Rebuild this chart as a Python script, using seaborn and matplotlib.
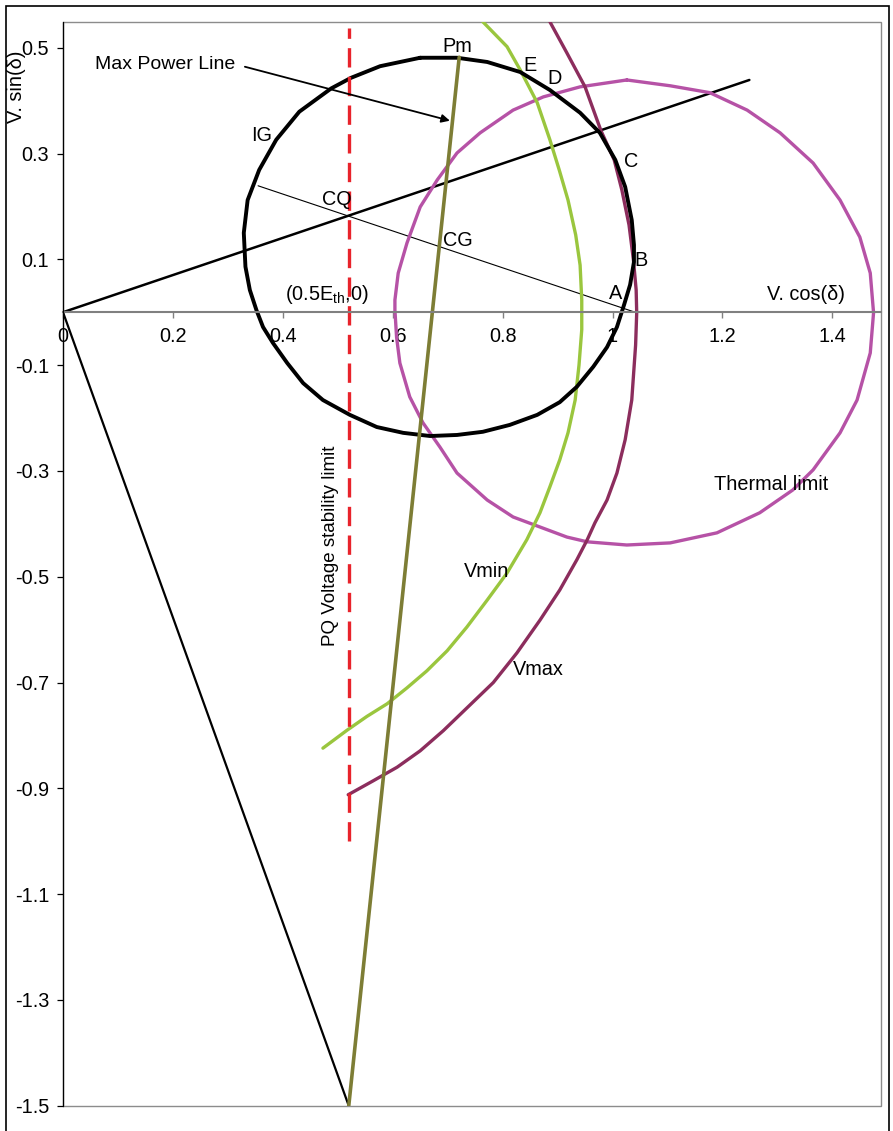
import matplotlib
matplotlib.use("Agg")
import matplotlib.pyplot as plt
from matplotlib.patches import Rectangle
import seaborn as sns

# ---- curves (V.cos(delta), V.sin(delta)) ----
ig_x = [0.650, 0.717, 0.772, 0.832, 0.886, 0.941, 0.977, 1.005, 1.023, 1.035,
        1.039, 1.039, 1.032, 1.021, 1.008, 0.990, 0.965, 0.935, 0.904, 0.863,
        0.813, 0.764, 0.717, 0.668, 0.619, 0.571, 0.522, 0.473, 0.437, 0.408,
        0.382, 0.364, 0.352, 0.340, 0.332, 0.329, 0.336, 0.357, 0.388, 0.430,
        0.488, 0.524, 0.577, 0.650]
ig_y = [0.481, 0.481, 0.473, 0.454, 0.420, 0.377, 0.339, 0.288, 0.237, 0.174,
        0.127, 0.095, 0.052, 0.014, -0.028, -0.066, -0.103, -0.141, -0.170, -0.194,
        -0.213, -0.226, -0.232, -0.234, -0.228, -0.217, -0.194, -0.166, -0.134, -0.096,
        -0.058, -0.028, 0.004, 0.042, 0.086, 0.150, 0.212, 0.269, 0.326, 0.379,
        0.423, 0.443, 0.465, 0.481]

thermal_x = [1.026, 1.105, 1.177, 1.245, 1.305, 1.365, 1.414, 1.450, 1.469, 1.475,
             1.469, 1.445, 1.414, 1.365, 1.328, 1.268, 1.190, 1.105, 1.026, 0.954,
             0.917, 0.868, 0.819, 0.772, 0.717, 0.686, 0.655, 0.631, 0.613, 0.607,
             0.604, 0.604, 0.610, 0.626, 0.650, 0.681, 0.717, 0.759, 0.819, 0.874,
             0.941, 1.026]
thermal_y = [0.439, 0.428, 0.415, 0.382, 0.339, 0.282, 0.212, 0.142, 0.074, -0.001,
             -0.077, -0.166, -0.228, -0.298, -0.336, -0.379, -0.417, -0.436, -0.440, -0.434,
             -0.425, -0.406, -0.387, -0.355, -0.304, -0.255, -0.209, -0.160, -0.096, -0.047,
             0.004, 0.023, 0.074, 0.131, 0.199, 0.250, 0.301, 0.339, 0.382, 0.407,
             0.426, 0.439]

vmin_x = [0.764, 0.808, 0.832, 0.863, 0.886, 0.903, 0.919, 0.933, 0.941, 0.944,
          0.944, 0.939, 0.932, 0.919, 0.904, 0.886, 0.868, 0.844, 0.808, 0.772,
          0.735, 0.699, 0.662, 0.626, 0.590, 0.553, 0.517, 0.473]
vmin_y = [0.549, 0.502, 0.458, 0.396, 0.326, 0.269, 0.212, 0.146, 0.089, 0.023,
          -0.033, -0.100, -0.166, -0.228, -0.279, -0.330, -0.379, -0.430, -0.493, -0.544,
          -0.595, -0.640, -0.678, -0.710, -0.740, -0.764, -0.790, -0.824]

vmax_x = [0.886, 0.917, 0.950, 0.979, 1.003, 1.017, 1.030, 1.038, 1.043, 1.044,
          1.042, 1.035, 1.023, 1.008, 0.990, 0.968, 0.954, 0.935, 0.904, 0.868,
          0.826, 0.783, 0.735, 0.692, 0.650, 0.608, 0.564, 0.519]
vmax_y = [0.549, 0.490, 0.426, 0.343, 0.288, 0.231, 0.165, 0.099, 0.042, -0.001,
          -0.062, -0.166, -0.241, -0.304, -0.355, -0.398, -0.430, -0.468, -0.525, -0.582,
          -0.644, -0.700, -0.748, -0.791, -0.829, -0.860, -0.886, -0.912]

lower_x = [0.0, 0.520]
lower_y = [0.0, -1.500]

upper_x = [0.0, 0.521, 1.249]
upper_y = [0.0, 0.183, 0.439]

maxpow_x = [0.520, 0.721]
maxpow_y = [-1.500, 0.482]

diam_x = [0.355, 1.041]
diam_y = [0.239, 0.0]

pq_x = [0.520, 0.520]
pq_y = [-1.000, 0.537]

x_ticks = [0.0, 0.2, 0.4, 0.6, 0.8, 1.0, 1.2, 1.4]
x_ticklabels = ["0", "0.2", "0.4", "0.6", "0.8", "1", "1.2", "1.4"]
y_ticks = [0.5, 0.3, 0.1, -0.1, -0.3, -0.5, -0.7, -0.9, -1.1, -1.3, -1.5]
y_ticklabels = ["0.5", "0.3", "0.1", "-0.1", "-0.3", "-0.5", "-0.7", "-0.9", "-1.1", "-1.3", "-1.5"]

sns.set_theme(style="white")
plt.rcParams["font.family"] = ["Liberation Sans", "DejaVu Sans"]
plt.rcParams["mathtext.fontset"] = "custom"
plt.rcParams["mathtext.rm"] = "Liberation Sans"
plt.rcParams["axes.unicode_minus"] = False
plt.rcParams["text.color"] = "black"
plt.rcParams["xtick.labelcolor"] = "black"
plt.rcParams["ytick.labelcolor"] = "black"

W, H = 893, 1131
fig = plt.figure(figsize=(W / 100, H / 100), dpi=100)
ax = fig.add_axes([63 / W, 1 - 1105.8 / H, (880.7 - 63) / W, (1105.8 - 22.3) / H])

C_THERM = "#B652A6"
C_VMAX = "#8C2D5D"
C_VMIN = "#9AC63E"
C_OLIVE = "#7D7D35"
C_RED = "#E8232B"


def curve(xs, ys, color, lw, **kw):
    sns.lineplot(x=xs, y=ys, sort=False, estimator=None, color=color,
                 linewidth=lw, ax=ax, **kw)


curve(lower_x, lower_y, "black", 1.6)
curve(upper_x, upper_y, "black", 1.8)
curve(diam_x, diam_y, "black", 0.8)
curve(thermal_x, thermal_y, C_THERM, 2.4)
curve(vmin_x, vmin_y, C_VMIN, 2.4)
curve(vmax_x, vmax_y, C_VMAX, 2.4)
curve(ig_x, ig_y, "black", 2.8)
curve(maxpow_x, maxpow_y, C_OLIVE, 2.6)
curve(pq_x, pq_y, C_RED, 2.4, linestyle=(0, (5.8, 2.8)))

ax.set_xlim(0, 1.488)
ax.set_ylim(-1.5, 0.548)

# axes frame: left axis black, horizontal axis through zero, grey plot-area box
for side in ("top", "right"):
    ax.spines[side].set_visible(False)
ax.spines["left"].set_color("black")
ax.spines["left"].set_linewidth(0.9)
ax.spines["left"].set_zorder(5)
ax.add_patch(Rectangle((0, 0), 1, 1, transform=ax.transAxes, fill=False,
                       ec="#8c8c8c", lw=1.0, clip_on=False, zorder=0.5))

ax.set_xticks(x_ticks)
ax.set_xticklabels(x_ticklabels)
ax.set_yticks(y_ticks)
ax.set_yticklabels(y_ticklabels)
fs = 14.3
ax.tick_params(axis="x", direction="out", length=4, width=1, color="#808080",
               pad=7, labelsize=fs, labelcolor="black", bottom=True)
ax.tick_params(axis="y", direction="out", length=4.5, width=0.9, color="black",
               pad=5.5, labelsize=fs, labelcolor="black", left=True)
ax.xaxis.set_ticks_position("bottom")
ax.spines["bottom"].set_position(("data", 0))
ax.spines["bottom"].set_color("#808080")
ax.spines["bottom"].set_linewidth(1.5)
ax.set_xlabel("")
ax.set_ylabel("")

# annotations
labels = [
    ("Pm", 0.717, 0.503), ("E", 0.850, 0.466), ("D", 0.895, 0.441),
    ("C", 1.033, 0.284), ("B", 1.052, 0.098), ("A", 1.006, 0.035),
    ("IG", 0.362, 0.334), ("CQ", 0.498, 0.214), ("CG", 0.719, 0.135),
    ("V. cos(δ)", 1.352, 0.033), ("Thermal limit", 1.289, -0.325),
    ("Vmin", 0.771, -0.490), ("Vmax", 0.865, -0.676),
]
for txt, x, y in labels:
    ax.text(x, y, txt, fontsize=fs, ha="center", va="center", zorder=6)
ax.text(0.480, 0.033, r"(0.5E$_{\mathregular{th}}$,0)", fontsize=fs,
        ha="center", va="center", zorder=6)
ax.text(0.058, 0.468, "Max Power Line", fontsize=14, ha="left", va="center")
ax.text(0.486, -0.441, "PQ Voltage stability limit", fontsize=13.5,
        rotation=90, ha="center", va="center")
ax.annotate("", xy=(0.704, 0.362), xytext=(0.331, 0.464),
            arrowprops=dict(arrowstyle="-|>", color="black", lw=1.3,
                            mutation_scale=12, shrinkA=0, shrinkB=0))

fig.text(17 / W, 1 - 87 / H, "V. sin(δ)", fontsize=fs, rotation=90,
         ha="center", va="center")

# outer frame of the figure
fig.add_artist(Rectangle((6 / W, -0.01), (889 - 6) / W, 1.01 - 6 / H,
                         transform=fig.transFigure, fill=False, ec="black", lw=1.2))

fig.savefig("out.png", dpi=100)
